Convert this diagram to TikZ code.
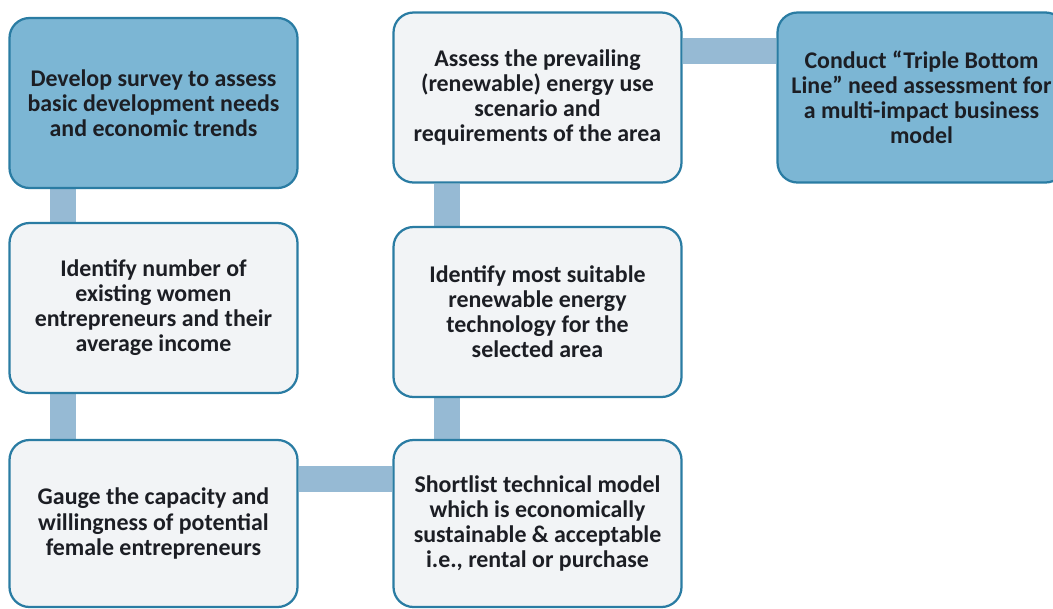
\documentclass[tikz,border=0pt]{standalone}
\usepackage{fontspec}
\setmainfont{Carlito}
\usetikzlibrary{backgrounds}

\definecolor{keyblue}{RGB}{124,182,212}
\definecolor{paleblue}{RGB}{242,244,246}
\definecolor{edgeblue}{RGB}{42,124,163}
\definecolor{barblue}{RGB}{150,186,212}
\definecolor{inkdark}{RGB}{28,30,36}

\begin{document}
\begin{tikzpicture}[
  stage/.style={draw=edgeblue, line width=1.6pt, fill=paleblue, rounded corners=0.5cm,
    minimum width=7.2cm, minimum height=4.25cm, align=center, text=inkdark,
    font=\fontsize{17}{17.8}\selectfont\bfseries},
  keystage/.style={stage, fill=keyblue},
  bar/.style={barblue, line width=0.65cm}
]
\useasboundingbox (0,0) rectangle (26.325,-15.2);

\node[keystage] (survey) at (3.8375,-2.575) {Develop survey to assess\\ basic development needs\\ and economic trends};

\node[stage] (women) at (3.8375,-7.7) {Identify number of\\ existing women\\ entrepreneurs and their\\ average income};

\node[stage, minimum height=4.175cm] (gauge) at (3.8375,-13.0875) {Gauge the capacity and\\ willingness of potential\\ female entrepreneurs};

\node[stage] (assess) at (13.4375,-2.4375) {Assess the prevailing\\ (renewable) energy use\\ scenario and\\ requirements of the area};

\node[stage] (identify) at (13.4375,-7.8) {Identify most suitable\\ renewable energy\\ technology for the\\ selected area};

\node[stage, minimum height=4.175cm] (shortlist) at (13.4375,-13.0875) {Shortlist technical model\\ which is economically\\ sustainable \& acceptable\\ i.e., rental or purchase};

\node[keystage] (triple) at (23.0375,-2.4375) {Conduct ``Triple Bottom\\ Line'' need assessment for\\ a multi-impact business\\ model};

\begin{scope}[on background layer]
\draw[bar] ([xshift=1.375cm]survey.south west) -- ([xshift=1.375cm]women.north west);

\draw[bar] ([xshift=1.375cm]women.south west) -- ([xshift=1.375cm]gauge.north west);

\draw[bar] ([yshift=-1cm]gauge.north east) -- ([yshift=-1cm]shortlist.north west);

\draw[bar] ([xshift=1.375cm]shortlist.north west) -- ([xshift=1.375cm]identify.south west);

\draw[bar] ([xshift=1.375cm]identify.north west) -- ([xshift=1.375cm]assess.south west);

\draw[bar] ([yshift=-1cm]assess.north east) -- ([yshift=-1cm]triple.north west);
\end{scope}
\end{tikzpicture}
\end{document}
